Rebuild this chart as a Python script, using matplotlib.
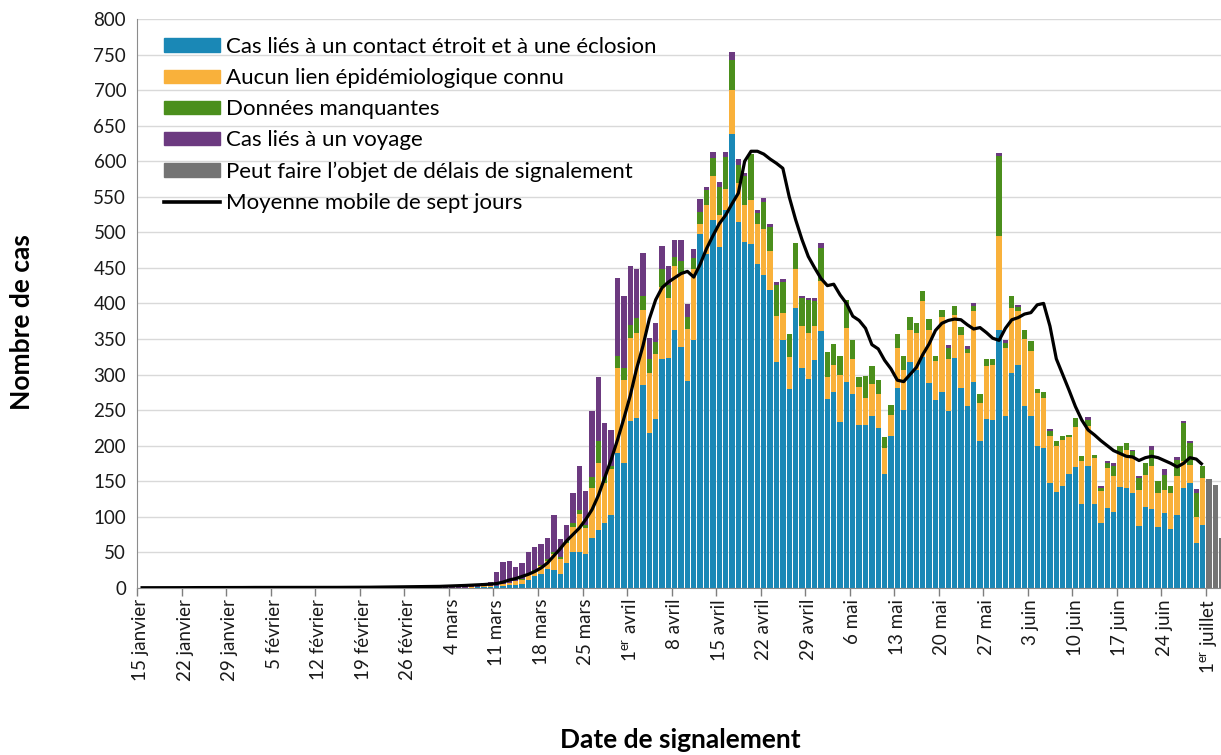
import matplotlib
matplotlib.use("Agg")
import matplotlib.pyplot as plt
import numpy as np
from matplotlib.lines import Line2D
from matplotlib.patches import Patch

plt.rcParams['font.family'] = ['Lato', 'DejaVu Sans']
plt.rcParams['mathtext.fontset'] = 'custom'
plt.rcParams['mathtext.rm'] = 'Lato'

# daily categories: 15 janvier .. 3 juillet
n_days = 171
start_bars = 46      # 1 mars
start_pending = 168  # 1er juillet

# 1 mars .. 30 juin
contact = [0, 0, 0, 0, 0, 0, 0, 1, 1, 1,
           2, 3, 4, 4, 6, 11, 16, 20, 26, 25,
           20, 35, 51, 51, 47, 70, 81, 91, 102, 189,
           175, 234, 239, 285, 218, 237, 322, 323, 362, 338,
           291, 349, 497, 470, 517, 480, 532, 638, 514, 487,
           483, 455, 440, 419, 318, 349, 279, 394, 309, 293,
           321, 361, 265, 276, 233, 289, 273, 229, 229, 242,
           225, 160, 213, 281, 250, 317, 306, 325, 288, 264,
           276, 248, 323, 281, 255, 290, 206, 237, 236, 363,
           242, 302, 314, 255, 241, 200, 197, 147, 135, 143,
           160, 170, 118, 172, 118, 91, 112, 107, 142, 140,
           133, 87, 113, 111, 86, 105, 82, 103, 140, 147,
           63, 89]
unknown = [0, 0, 0, 0, 0, 0, 1, 0, 1, 1,
           1, 2, 3, 5, 5, 7, 7, 10, 12, 22,
           21, 28, 35, 53, 37, 70, 94, 56, 65, 120,
           117, 117, 119, 106, 84, 92, 101, 85, 91, 105,
           73, 99, 14, 69, 62, 44, 29, 62, 56, 51,
           63, 57, 65, 54, 64, 38, 46, 54, 59, 65,
           47, 70, 32, 38, 67, 76, 49, 54, 38, 45,
           48, 36, 30, 56, 56, 46, 52, 79, 75, 55,
           105, 74, 61, 75, 75, 99, 54, 75, 78, 132,
           95, 92, 76, 95, 92, 74, 70, 67, 64, 65,
           52, 56, 61, 55, 64, 45, 56, 50, 48, 54,
           51, 51, 46, 61, 47, 33, 51, 54, 38, 26,
           36, 65]
missing = [0, 0, 0, 0, 0, 0, 0, 0, 0, 0,
           0, 0, 0, 0, 1, 1, 2, 2, 3, 3,
           3, 3, 5, 5, 4, 16, 31, 9, 4, 17,
           17, 19, 21, 19, 20, 17, 25, 18, 12, 16,
           17, 16, 17, 21, 25, 40, 45, 42, 24, 41,
           64, 15, 37, 35, 44, 43, 32, 37, 40, 47,
           36, 47, 34, 29, 26, 40, 27, 14, 31, 25,
           19, 16, 14, 20, 20, 18, 15, 14, 15, 7,
           10, 15, 12, 11, 6, 7, 12, 10, 8, 112,
           8, 16, 5, 13, 14, 6, 8, 6, 7, 5,
           3, 13, 6, 9, 5, 4, 7, 15, 10, 10,
           8, 16, 16, 22, 17, 21, 10, 23, 54, 30,
           35, 18]
travel = [1, 1, 1, 2, 2, 3, 3, 4, 5, 6,
          19, 31, 31, 20, 23, 32, 33, 29, 29, 52,
          25, 22, 42, 62, 48, 92, 90, 76, 51, 110,
          101, 83, 69, 61, 29, 26, 33, 27, 24, 30,
          18, 12, 19, 4, 9, 7, 7, 12, 9, 5,
          0, 5, 6, 4, 4, 4, 0, 0, 3, 3,
          4, 7, 0, 0, 0, 0, 0, 0, 0, 0,
          0, 0, 0, 0, 0, 0, 0, 0, 0, 0,
          0, 5, 0, 0, 4, 4, 0, 0, 0, 4,
          4, 0, 3, 0, 0, 0, 0, 3, 0, 0,
          0, 0, 0, 4, 0, 3, 3, 4, 0, 0,
          2, 3, 0, 5, 0, 8, 0, 4, 3, 3,
          5, 0]
# 1er .. 3 juillet
pending = [153, 145, 70]

# 15 janvier .. 30 juin
avg7 = [0.1, 0.1, 0.1, 0.1, 0.1, 0.2, 0.2, 0.2, 0.3, 0.3,
        0.3, 0.3, 0.4, 0.4, 0.4, 0.4, 0.4, 0.5, 0.5, 0.5,
        0.5, 0.5, 0.5, 0.5, 0.5, 0.5, 0.6, 0.6, 0.6, 0.6,
        0.6, 0.6, 0.7, 0.7, 0.7, 0.8, 0.8, 0.9, 1.0, 1.0,
        1.1, 1.2, 1.3, 1.4, 1.5, 1.6, 1.8, 2.0, 2.3, 2.6,
        3.0, 3.3, 3.7, 4.1, 4.6, 5.2,
        6, 8, 11, 13, 16, 19, 23, 28, 35, 45,
        55, 66, 75, 84, 96, 110, 130, 155, 180, 208,
        238, 270, 308, 340, 378, 405, 422, 430, 436, 442,
        445, 437, 455, 477, 495, 512, 524, 540, 555, 600,
        614, 614, 610, 603, 597, 590, 550, 518, 490, 466,
        450, 435, 425, 427, 412, 400, 382, 376, 365, 342,
        336, 320, 308, 292, 290, 300, 310, 328, 343, 362,
        372, 376, 378, 377, 370, 364, 366, 359, 351, 348,
        365, 377, 380, 385, 387, 398, 400, 368, 322, 300,
        278, 255, 236, 222, 215, 207, 200, 193, 189, 185,
        184, 179, 183, 185, 183, 179, 175, 170, 175, 183,
        181, 173]

tick_labels = ["15 janvier", "22 janvier", "29 janvier", "5 février",
               "12 février", "19 février", "26 février", "4 mars",
               "11 mars", "18 mars", "25 mars", r"1$^{\mathrm{er}}$ avril",
               "8 avril", "15 avril", "22 avril", "29 avril", "6 mai",
               "13 mai", "20 mai", "27 mai", "3 juin", "10 juin",
               "17 juin", "24 juin", r"1$^{\mathrm{er}}$ juillet"]

labels = ["Cas liés à un contact étroit et à une éclosion",
          "Aucun lien épidémiologique connu",
          "Données manquantes",
          "Cas liés à un voyage",
          "Peut faire l’objet de délais de signalement",
          "Moyenne mobile de sept jours"]
colors = ["#1a88b6", "#f9b13b", "#4b8f1c", "#6c3a80", "#747474"]

W, H = 1221, 755
fig = plt.figure(figsize=(W / 100, H / 100), dpi=100)
x0, x1, y0, y1 = 137.3, 1221, 19, 587.8
ax = fig.add_axes([x0 / W, 1 - y1 / H, (x1 - x0) / W, (y1 - y0) / H])

xb = np.arange(start_bars, start_bars + len(contact))
bottom = np.zeros(len(contact))
bw = 0.84
for vals, c in zip([contact, unknown, missing, travel], colors[:4]):
    ax.bar(xb, vals, bw, bottom=bottom, color=c, linewidth=0, zorder=2)
    bottom += np.array(vals)
xp = np.arange(start_pending, start_pending + len(pending))
ax.bar(xp, pending, bw, color=colors[4], linewidth=0, zorder=2)

ax.plot(np.arange(len(avg7)), avg7, color="black", lw=2.3, zorder=3,
        solid_capstyle="butt")

ax.set_xlim(-0.5, -0.5 + (x1 - x0) / 6.36)
ax.set_ylim(0, 800)
ax.set_yticks(np.arange(0, 801, 50))
ax.yaxis.grid(True, color="#d9d9d9", lw=1, zorder=0)
ax.set_axisbelow(True)

ax.set_xticks(np.arange(0, n_days - 1, 7))
ax.set_xticklabels(tick_labels, rotation=90)
ax.set_xticks(np.arange(-0.5, n_days - 1, 7), minor=True)
ax.tick_params(axis="x", which="major", length=0, pad=8, labelsize=13.5,
               colors="#1a1a1a")
ax.tick_params(axis="x", which="minor", length=6, width=1, color="#7f7f7f")
ax.tick_params(axis="y", length=0, pad=8, labelsize=13.5, colors="#1a1a1a")

for s in ["top", "right"]:
    ax.spines[s].set_visible(False)
ax.spines["left"].set_color("#8c8c8c")
ax.spines["bottom"].set_color("#8c8c8c")

ax.set_ylabel("Nombre de cas", fontsize=19, fontweight="bold")
ax.yaxis.set_label_coords((34 - x0) / (x1 - x0), (y1 - 322) / (y1 - y0))
fig.text(680 / W, 1 - 740 / H, "Date de signalement", fontsize=19,
         fontweight="bold", ha="center", va="center")

handles = [Patch(color=c) for c in colors] + [Line2D([], [], color="black", lw=2.6)]
fig.legend(handles, labels, loc="upper left",
           bbox_to_anchor=(164 / W, 1 - 37 / H), frameon=False,
           fontsize=16, handlelength=2.5, handleheight=0.55,
           handletextpad=0.3, labelspacing=0.5, borderpad=0,
           borderaxespad=0)

fig.savefig("out.png", dpi=100)
